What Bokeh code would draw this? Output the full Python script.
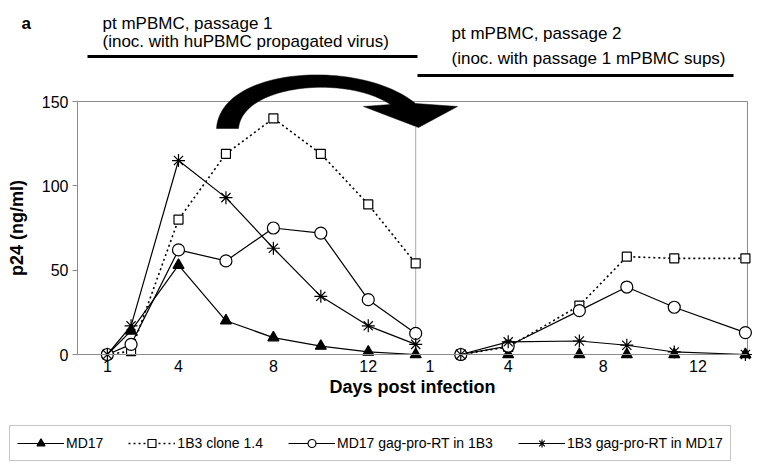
import numpy as np
from bokeh.plotting import figure
from bokeh.models import (LinearAxis, FixedTicker, Label, Legend, LegendItem)
from bokeh.embed import file_html
from bokeh.resources import INLINE

# ---------------- data ----------------
days_p1 = [1, 2, 4, 6, 8, 10, 12, 14]
days_p2 = [2, 4, 7, 9, 11, 14]
PASSAGE2_OFFSET = 13.9  # passage 2 is drawn after passage 1 on the same axis

md17_p1 = [0, 14, 53, 20, 10, 5, 1.5, 0]
clone_p1 = [0, 2, 80, 119, 140, 119, 89, 54]
md17gag_p1 = [0, 6, 62, 55.5, 75, 72, 32.5, 12.5]
b3gag_p1 = [0, 17, 115, 93, 63, 34.5, 17, 6]

md17_p2 = [0, 0, 0, 0, 0, 0]
clone_p2 = [0, 4.5, 29, 58, 57, 57]
md17gag_p2 = [0, 5, 26, 40, 28, 13]
b3gag_p2 = [0, 7.5, 8, 5.5, 1.5, 0]

series_names = ["MD17", "1B3 clone 1.4", "MD17 gag-pro-RT in 1B3", "1B3 gag-pro-RT in MD17"]
x_tick_days_p1 = [1, 4, 8, 12]
x_tick_days_p2 = [0.7, 4, 8, 12]
x_tick_labels = ["1", "4", "8", "12"]
y_ticks = [0, 50, 100, 150]

FONT = "Liberation Sans"
W, H = 763, 469

# helpers converting page pixel positions (for decorations only) to data units
PX_PER_DAY = 23.72
PX_PER_UNIT = 253 / 150.0
def fx(px):
    return 4 + (px - 178) / PX_PER_DAY
def fy(py):
    return (354 - py) / PX_PER_UNIT

p = figure(width=W, height=H, output_backend="svg", toolbar_location=None,
           x_range=(fx(0), fx(W)), y_range=(fy(H), fy(0)),
           x_axis_type=None, y_axis_type=None,
           min_border_left=0, min_border_right=0, min_border_top=0, min_border_bottom=0)
p.outline_line_color = None
p.xgrid.visible = False
p.ygrid.visible = False
p.background_fill_color = "white"
p.border_fill_color = "white"

GRAY = "#8c8c8c"

# y axis
yax = LinearAxis(ticker=FixedTicker(ticks=y_ticks), bounds=(0, 150), fixed_location=fx(77),
                 axis_label="p24 (ng/ml)")
yax.axis_line_color = GRAY
yax.major_tick_line_color = GRAY
yax.major_tick_out = 5
yax.major_tick_in = 0
yax.minor_tick_line_color = None
yax.major_label_standoff = 4
yax.major_label_text_font = FONT
yax.major_label_text_font_size = "16px"
yax.major_label_text_color = "black"
yax.axis_label_text_font = FONT
yax.axis_label_text_font_size = "18px"
yax.axis_label_text_font_style = "bold"
yax.axis_label_text_color = "black"
yax.axis_label_standoff = 12
p.add_layout(yax, "left")

# x axis
xt = [float(d) for d in x_tick_days_p1] + [float(d + PASSAGE2_OFFSET) for d in x_tick_days_p2]
overrides = {v: lab for v, lab in zip(xt, x_tick_labels + x_tick_labels)}
xax = LinearAxis(ticker=FixedTicker(ticks=xt), major_label_overrides=overrides,
                 bounds=(fx(77), fx(747)), fixed_location=0,
                 axis_label="Days post infection")
xax.axis_line_color = GRAY
xax.major_tick_line_color = None
xax.major_tick_out = 0
xax.major_tick_in = 0
xax.minor_tick_line_color = None
xax.major_label_standoff = 5
xax.major_label_text_font = FONT
xax.major_label_text_font_size = "16px"
xax.major_label_text_color = "black"
xax.axis_label_text_font = FONT
xax.axis_label_text_font_size = "18px"
xax.axis_label_text_font_style = "bold"
xax.axis_label_text_color = "black"
xax.axis_label_standoff = 2
p.add_layout(xax, "below")

# plot box borders (top and right) and divider between passages
p.segment(x0=[fx(77)], y0=[150], x1=[fx(747)], y1=[150], line_color=GRAY, line_width=1)
p.segment(x0=[fx(747)], y0=[0], x1=[fx(747)], y1=[150], line_color=GRAY, line_width=1)
p.segment(x0=[14], y0=[0], x1=[14], y1=[fy(127)], line_color="#555555",
          line_width=1, line_dash="1 1")

# series
d2 = [d + PASSAGE2_OFFSET for d in days_p2]
styles = [
    dict(values=(md17_p1, md17_p2), marker="triangle", size=11, fill="black", dash="solid", lw=1.2),
    dict(values=(clone_p1, clone_p2), marker="square", size=9, fill="white", dash="2 3", lw=1.6),
    dict(values=(md17gag_p1, md17gag_p2), marker="circle", size=12, fill="white", dash="solid", lw=1.2),
    dict(values=(b3gag_p1, b3gag_p2), marker="asterisk", size=13, fill="white", dash="solid", lw=1.2),
]
items = []
for name, st in zip(series_names, styles):
    rs = []
    for xs, ys in ((days_p1, st["values"][0]), (d2, st["values"][1])):
        ln = p.line(xs, ys, line_color="black", line_width=st["lw"], line_dash=st["dash"])
        sc = p.scatter(xs, ys, marker=st["marker"], size=st["size"], line_color="black",
                       fill_color=st["fill"], line_width=1.2)
        rs += [ln, sc]
    items.append(LegendItem(label=name, renderers=rs[:2]))

legend = Legend(items=items, orientation="horizontal", location=(9, H - 461))
legend.label_text_font = FONT
legend.label_text_font_size = "14px"
legend.label_text_color = "black"
legend.glyph_width = 47
legend.glyph_height = 20
legend.label_height = 20
legend.label_standoff = 2
legend.spacing = 25
legend.padding = 7
legend.margin = 0
legend.border_line_color = GRAY
legend.border_line_width = 1
legend.background_fill_color = "white"
legend.background_fill_alpha = 1
p.add_layout(legend)

# curved arrow between passages
def bez(p0, p1, p2, p3, n=50):
    t = np.linspace(0, 1, n)[:, None]
    pts = ((1 - t) ** 3) * np.array(p0) + 3 * ((1 - t) ** 2) * t * np.array(p1) \
        + 3 * (1 - t) * t ** 2 * np.array(p2) + t ** 3 * np.array(p3)
    return pts
outer = bez((216, 128), (220, 66), (360, 58), (415, 103))
inner = bez((238, 128), (242, 84), (345, 74), (390, 104))[::-1]
head = np.array([(457, 106), (418, 127), (363, 106)])
poly = np.vstack([outer, head, inner])
p.patch([fx(v) for v in poly[:, 0]], [fy(v) for v in poly[:, 1]],
        fill_color="black", line_color="black", line_width=0.5)

# passage header bars
p.segment(x0=[fx(87), fx(417)], y0=[fy(56), fy(75)], x1=[fx(417), fx(733)], y1=[fy(56), fy(75)],
          line_color="black", line_width=3)

def label(px, py, text, size="17px", bold=False):
    lb = Label(x=fx(px), y=fy(py), text=text, text_font=FONT, text_font_size=size,
               text_baseline="alphabetic", text_align="left", text_color="black",
               text_font_style="bold" if bold else "normal")
    p.add_layout(lb)

label(21, 23, "a", size="17px", bold=True)
label(102, 23, "pt mPBMC, passage 1")
label(102, 41, "(inoc. with huPBMC propagated virus)")
label(451, 33, "pt mPBMC, passage 2")
label(451, 58, "(inoc. with passage 1 mPBMC sups)")

open("out.html", "w").write(file_html(p, INLINE))
